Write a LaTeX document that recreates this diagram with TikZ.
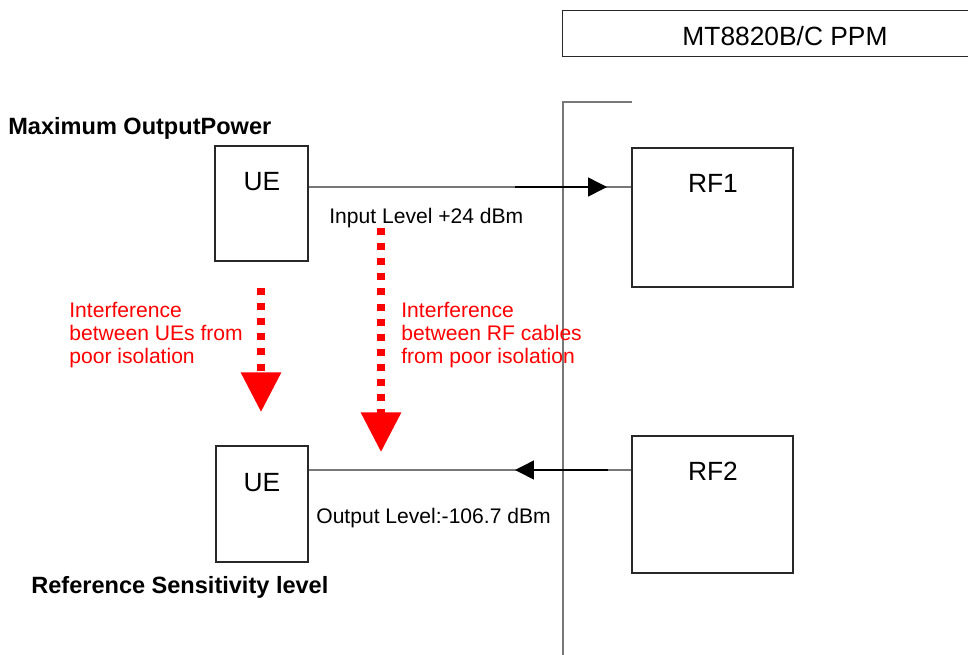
\documentclass[tikz,border=0pt]{standalone}
\usepackage{fontspec}
\setmainfont{Liberation Sans}
\usepackage{xcolor}
\usepackage{tikz}
\usetikzlibrary{arrows.meta}
\definecolor{wire}{RGB}{120,120,120}
\definecolor{boxline}{RGB}{40,40,40}

\begin{document}
\begin{tikzpicture}[x=0.02cm, y=-0.02cm,
  box/.style={draw=boxline, line width=0.6pt, inner sep=0pt},
  big/.style={font=\fontsize{15}{18}\selectfont, inner sep=0pt},
  lbl/.style={font=\fontsize{12}{14}\selectfont, inner sep=0pt, anchor=west},
  hint/.style={font=\fontsize{12}{13.3}\selectfont, text=red, align=left,
               inner sep=0pt, anchor=west},
  title/.style={font=\bfseries\fontsize{13.4}{16}\selectfont, inner sep=0pt, anchor=west},
  link/.style={draw=wire, line width=0.6pt},
  sig/.style={-{Triangle[length=10.8pt,width=10.8pt]}, line width=0.9pt, black},
  interf/.style={-{Triangle[length=22.5pt,width=22pt]}, red, line width=4pt,
                 dash pattern=on 4pt off 4.6pt}
]
  \useasboundingbox (0,0) rectangle (968,654);

  % tester side
  \node[box, minimum width=8.3cm, minimum height=0.92cm, anchor=north west] (ppm) at (562,10) {};
  \node[big] (ppmlbl) at (785,36) {MT8820B/C PPM};
  \draw[link] (632,102) -- (563,102) -- (563,660);

  % boxes
  \node[box, minimum width=1.86cm, minimum height=2.30cm] (ue1) at (261.5,203.5) {};
  \node[box, minimum width=1.84cm, minimum height=2.32cm] (ue2) at (262,504) {};
  \node[box, minimum width=3.22cm, minimum height=2.78cm] (rf1) at (712.5,217.5) {};
  \node[box, minimum width=3.22cm, minimum height=2.74cm] (rf2) at (712.5,504.5) {};
  \node[big] (ue1lbl) at (262,182) {UE};
  \node[big] (ue2lbl) at (262,483) {UE};
  \node[big] (rf1lbl) at (713,183) {RF1};
  \node[big] (rf2lbl) at (713,471) {RF2};

  % cables
  \coordinate (up1) at (515,187);
  \coordinate (up2) at (607,187);
  \coordinate (dn1) at (608,470);
  \coordinate (dn2) at (515,470);
  \draw[link] (ue1.east |- up1) -- (rf1.west |- up1);
  \draw[link] (ue2.east |- dn1) -- (rf2.west |- dn1);
  \draw[sig] (up1) -- (up2);
  \draw[sig] (dn1) -- (dn2);
  \node[lbl] (inlvl) at (329,218) {Input Level +24 dBm};
  \node[lbl] (outlvl) at (316,518) {Output Level:-106.7 dBm};

  % interference
  \coordinate (ia1) at (261,288);
  \coordinate (ia2) at (261,412);
  \coordinate (ib1) at (381,228);
  \coordinate (ib2) at (381,452);
  \draw[interf] (ia1) -- (ia2);
  \draw[interf] (ib1) -- (ib2);
  \node[hint] (uehint) at (69,335) {Interference\\between UEs from\\poor isolation};
  \node[hint] (rfhint) at (401,335) {Interference\\between RF cables\\from poor isolation};

  % titles
  \node[title] (maxpwr) at (8,128) {Maximum OutputPower};
  \node[title] (refsens) at (31,587) {Reference Sensitivity level};
\end{tikzpicture}
\end{document}
